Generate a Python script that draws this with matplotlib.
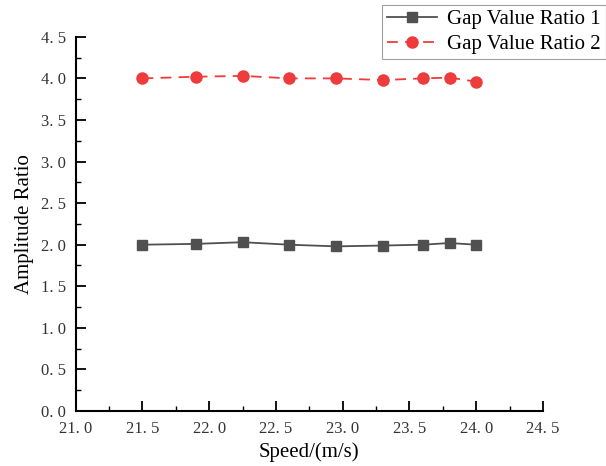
import numpy as np
import matplotlib.pyplot as plt

plt.rcParams['font.family'] = ['Liberation Serif', 'DejaVu Serif']

# data
speed = [21.5, 21.9, 22.25, 22.6, 22.95, 23.3, 23.6, 23.8, 24.0]
ratio1 = [2.00, 2.01, 2.03, 2.00, 1.98, 1.99, 2.00, 2.02, 2.00]
ratio2 = [4.00, 4.02, 4.03, 4.00, 4.00, 3.98, 4.00, 4.01, 3.96]

fig = plt.figure(figsize=(6.06, 4.66), dpi=100)
ax = fig.add_axes([0.125, 0.118, 0.771, 0.803])

ax.plot(speed, ratio1, color='#505050', lw=1.3, marker='s', markersize=7,
        label='Gap Value Ratio 1')
ax.plot(speed, ratio2, color='#ee3b3b', lw=1.3, ls=(0, (6, 4)), marker='o',
        markersize=8, label='Gap Value Ratio 2')

ax.set_xlim(21.0, 24.5)
ax.set_ylim(0, 4.5)
ax.set_xticks(np.arange(21.0, 24.51, 0.5))
ax.set_yticks(np.arange(0, 4.51, 0.5))
ax.set_xticks(np.arange(21.25, 24.5, 0.5), minor=True)
ax.set_yticks(np.arange(0.25, 4.5, 0.5), minor=True)
ax.set_xticklabels([f'{v:.1f}'.replace('.', '. ') for v in np.arange(21.0, 24.51, 0.5)])
ax.set_yticklabels([f'{v:.1f}'.replace('.', '. ') for v in np.arange(0, 4.51, 0.5)])

for s in ['top', 'right']:
    ax.spines[s].set_visible(False)
for s in ['left', 'bottom']:
    ax.spines[s].set_linewidth(1.5)
ax.tick_params(which='major', direction='in', length=7, width=1.3, labelsize=12,
               colors='black', labelcolor='#333333', pad=7)
ax.tick_params(which='minor', direction='in', length=3.5, width=1.0)

ax.set_xlabel('Speed/(m/s)', fontsize=15, labelpad=4)
ax.set_ylabel('Amplitude Ratio', fontsize=15, labelpad=5)

leg = ax.legend(loc='upper right', bbox_to_anchor=(1.0, 0.99),
                bbox_transform=fig.transFigure, fontsize=15, frameon=True,
                fancybox=False, edgecolor='#888888', borderpad=0.25,
                handlelength=2.4, handletextpad=0.5, labelspacing=0.25,
                borderaxespad=0)
leg.get_frame().set_linewidth(0.8)

fig.savefig('out.png', dpi=100)
